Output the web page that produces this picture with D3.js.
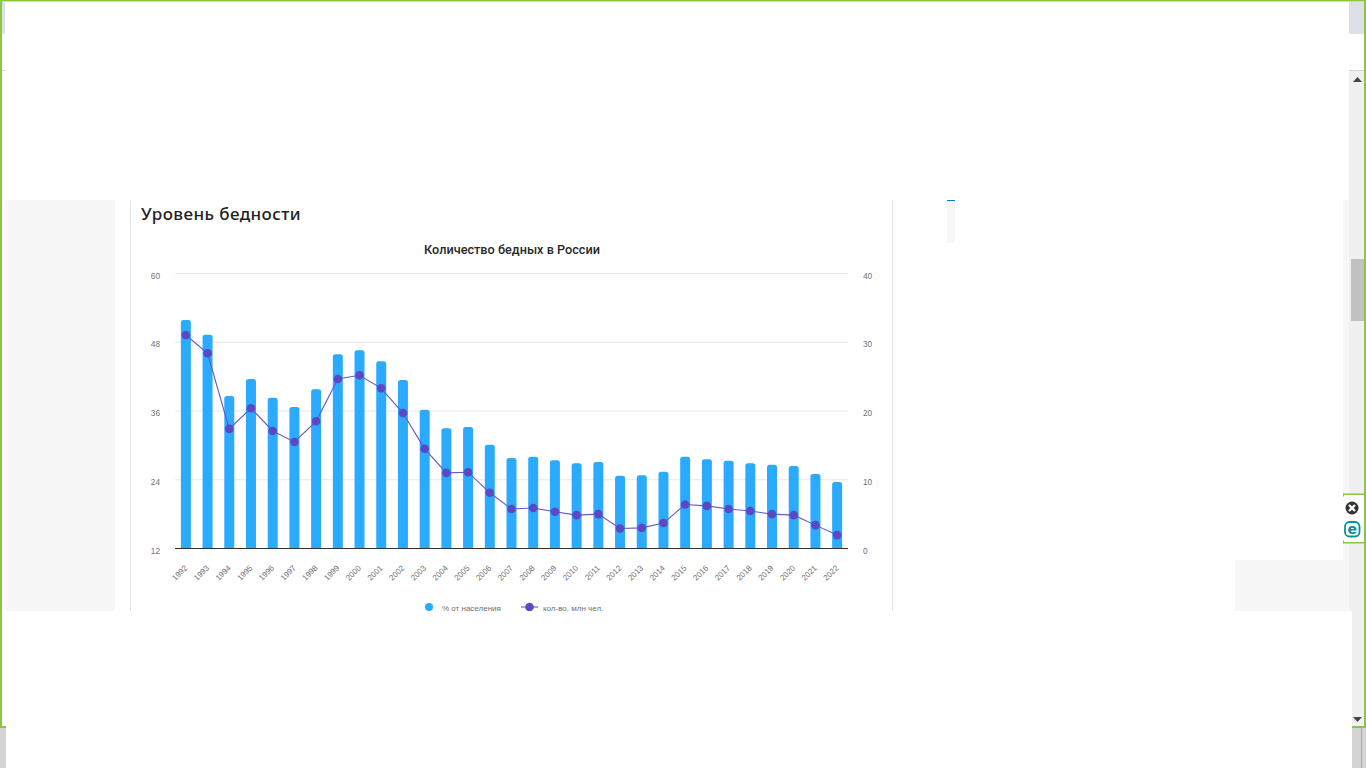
<!DOCTYPE html>
<html lang="ru">
<head>
<meta charset="utf-8">
<title>Уровень бедности</title>
<script src="https://cdn.jsdelivr.net/npm/d3@7"></script>
<style>
  html, body { margin: 0; padding: 0; background: #fff; overflow: hidden; }
  svg { display: block; }
  text { font-family: "Liberation Sans", Arial, sans-serif; }
</style>
</head>
<body>
<div id="chart"></div>
<script>
const years = ['1992', '1993', '1994', '1995', '1996', '1997', '1998', '1999', '2000', '2001', '2002',
    '2003', '2004', '2005', '2006', '2007', '2008', '2009', '2010', '2011', '2012', '2013', '2014',
    '2015', '2016', '2017', '2018', '2019', '2020', '2021', '2022'];
const percentValues = [51.9, 49.3, 38.6, 41.6, 38.3, 36.7, 39.8, 45.9, 46.6, 44.7, 41.4,
    36.2, 33.0, 33.2, 30.1, 27.8, 28.0, 27.4, 26.9, 27.1, 24.7, 24.8, 25.4,
    28.0, 27.6, 27.3, 26.9, 26.6, 26.4, 25.0, 23.6];
const millionValues = [31.05, 28.4, 17.4, 20.4, 17.1, 15.5, 18.5, 24.65, 25.2, 23.3, 19.7,
    14.5, 11.0, 11.1, 8.1, 5.75, 5.9, 5.35, 4.85, 5.0, 2.9, 3.0, 3.7,
    6.4, 6.2, 5.75, 5.45, 5.0, 4.85, 3.4, 1.95];
const leftTicks = [12, 24, 36, 48, 60];
const rightTicks = [0, 10, 20, 30, 40];
const legendLabels = ['% от населения', 'кол-во, млн чел.'];

const barColor = '#2aabff';
const lineColor = '#5a48c4';
const labelColor = '#6f6f78';

const svg = d3.select('#chart').append('svg')
    .attr('width', 1366)
    .attr('height', 768);

function box(x, y, w, h, fill) {
    return svg.append('rect').attr('x', x).attr('y', y).attr('width', w).attr('height', h).attr('fill', fill);
}

// Page background behind the card
box(5, 200, 110, 411, '#f7f7f7');
box(1235, 560, 108, 51, '#f7f7f7');
box(1343, 200, 6, 411, '#f7f7f7');
box(947, 201, 8, 42, '#f7f7f7');
box(947, 200, 8, 1, '#0a78c8');
box(130, 200, 1, 411, '#e4e4e4');
box(892, 200, 1, 411, '#e4e4e4');

svg.append('text')
    .attr('x', 141)
    .attr('y', 220)
    .attr('fill', '#222')
    .style('font-family', '"Noto Sans", sans-serif')
    .style('font-size', '17px')
    .style('font-weight', 500)
    .style('letter-spacing', '0.4px')
    .text('Уровень бедности');

svg.append('text')
    .attr('x', 512)
    .attr('y', 254)
    .attr('text-anchor', 'middle')
    .attr('fill', '#2a2a2a')
    .style('font-family', 'Roboto, sans-serif')
    .style('font-size', '12.7px')
    .style('font-weight', 500)
    .text('Количество бедных в России');

// Chart
const margin = { top: 273.5, left: 175, right: 848, bottom: 548.5 };
const x = d3.scaleBand().domain(years).range([margin.left, margin.right]).paddingInner(0.54).paddingOuter(0.27);
const yLeft = d3.scaleLinear().domain([12, 60]).range([margin.bottom, margin.top]);
const yRight = d3.scaleLinear().domain([0, 40]).range([margin.bottom, margin.top]);

const gridAxis = svg.append('g')
    .attr('transform', `translate(${margin.left},0)`)
    .call(d3.axisRight(yLeft).tickValues(leftTicks).tickSize(margin.right - margin.left).tickFormat('').offset(0));
gridAxis.select('.domain').remove();
gridAxis.selectAll('line').attr('stroke', '#e6e6e6');

const leftAxis = svg.append('g')
    .attr('transform', `translate(${margin.left},0)`)
    .call(d3.axisLeft(yLeft).tickValues(leftTicks).tickSize(0).tickPadding(15).offset(0));
const rightAxis = svg.append('g')
    .attr('transform', `translate(${margin.right},0)`)
    .call(d3.axisRight(yRight).tickValues(rightTicks).tickSize(0).tickPadding(15).offset(0));
[leftAxis, rightAxis].forEach(axis => {
    axis.select('.domain').remove();
    axis.selectAll('text')
        .attr('fill', labelColor)
        .attr('dy', '5px')
        .style('font-family', '"Liberation Sans", Arial, sans-serif')
        .style('font-size', '8.3px');
});

// bars have rounded tops only
const bw = x.bandwidth();
const r = 2.5;
svg.append('g').selectAll('path')
    .data(percentValues)
    .enter().append('path')
    .attr('fill', barColor)
    .attr('d', (d, i) => {
        const x0 = x(years[i]);
        const top = yLeft(d);
        return `M${x0},${margin.bottom}V${top + r}Q${x0},${top} ${x0 + r},${top}H${x0 + bw - r}Q${x0 + bw},${top} ${x0 + bw},${top + r}V${margin.bottom}Z`;
    });

const xAxis = svg.append('g')
    .attr('transform', `translate(0,${margin.bottom})`)
    .call(d3.axisBottom(x).tickSize(0).offset(0));
xAxis.select('.domain').attr('stroke', '#333').attr('stroke-width', 1);
xAxis.selectAll('text')
    .attr('x', 0)
    .attr('y', 0)
    .attr('dy', 0)
    .attr('transform', 'translate(2,20) rotate(-45)')
    .attr('text-anchor', 'end')
    .attr('fill', labelColor)
    .style('font-family', '"Liberation Sans", Arial, sans-serif')
    .style('font-size', '8px');

const line = d3.line()
    .x((d, i) => x(years[i]) + bw / 2)
    .y(d => yRight(d));

svg.append('path')
    .datum(millionValues)
    .attr('fill', 'none')
    .attr('stroke', '#6555cc')
    .attr('stroke-width', 1.1)
    .attr('d', line);

svg.append('g').selectAll('circle')
    .data(millionValues)
    .enter().append('circle')
    .attr('cx', (d, i) => x(years[i]) + bw / 2)
    .attr('cy', d => yRight(d))
    .attr('r', 4.3)
    .attr('fill', lineColor);

// Legend
const legendY = 607;
svg.append('circle').attr('cx', 429).attr('cy', legendY).attr('r', 4).attr('fill', barColor);
svg.append('text').attr('x', 442).attr('y', legendY + 3.5).attr('fill', labelColor)
    .style('font-size', '8px').text(legendLabels[0]);
svg.append('line').attr('x1', 521).attr('x2', 538).attr('y1', legendY).attr('y2', legendY)
    .attr('stroke', '#6555cc').attr('stroke-width', 1.1);
svg.append('circle').attr('cx', 529.5).attr('cy', legendY).attr('r', 4.3).attr('fill', lineColor);
svg.append('text').attr('x', 543).attr('y', legendY + 3.5).attr('fill', labelColor)
    .style('font-size', '8px').text(legendLabels[1]);

// Browser window chrome, covers the legend bottom edge like the screenshot
box(6, 611, 1346, 157, '#fff');
box(2, 2, 3, 32, '#dde0e6');
box(2, 70, 3, 1, '#d8d8d8');
box(1349, 2, 15, 32, '#dde0e6');
box(1349, 70, 15, 541, '#f0f0f0');
box(1352, 611, 12, 115, '#f0f0f0');
box(1349, 70, 15, 1, '#d8d8d8');
box(1351, 259, 13, 62, '#c0c0c0');
box(1352, 728, 14, 40, '#d4d4d4');
box(1361, 728, 1, 40, '#aaa');
box(0, 728, 6, 40, '#d4d4d4');
svg.append('path').attr('d', 'M1357.5,77L1362,82H1353Z').attr('fill', '#444');
svg.append('path').attr('d', 'M1357.5,722L1362,717H1353Z').attr('fill', '#444');

// Green frame
const frameColor = '#8cc63f';
box(0, 0, 1366, 1.5, frameColor);
box(0, 0, 2, 728, frameColor);
box(1364, 0, 2, 728, frameColor);
box(0, 726, 6, 2, frameColor);
box(1352, 726, 14, 2, frameColor);

// Extension widget on the scrollbar
box(1343, 494, 21, 49, '#fff');
box(1343, 493.5, 21, 1.5, frameColor);
box(1343, 542, 21, 1.5, frameColor);
box(1343, 493.5, 1, 3, frameColor);
box(1343, 540.5, 1, 3, frameColor);
svg.append('circle').attr('cx', 1352).attr('cy', 508).attr('r', 6.5).attr('fill', '#333');
svg.append('path').attr('d', 'M1349,505L1355,511M1355,505L1349,511')
    .attr('stroke', '#fff').attr('stroke-width', 2.2);
svg.append('rect').attr('x', 1345).attr('y', 522).attr('width', 14.5).attr('height', 14.5).attr('rx', 4.5)
    .attr('fill', 'none').attr('stroke', '#0e8f9c').attr('stroke-width', 1.8);
svg.append('text').attr('x', 1352.2).attr('y', 534).attr('text-anchor', 'middle').attr('fill', '#0e8f9c')
    .style('font-family', '"DejaVu Sans", sans-serif')
    .style('font-size', '14px').style('font-weight', 700).text('e');
</script>
</body>
</html>
